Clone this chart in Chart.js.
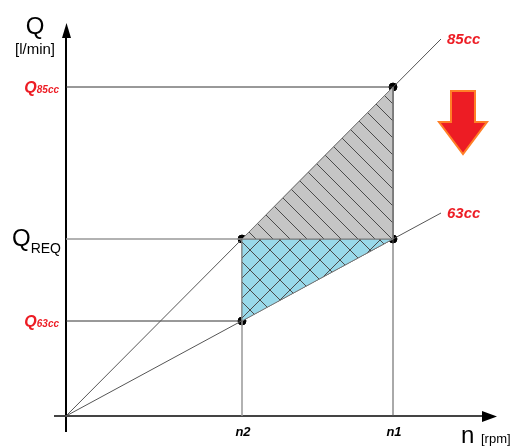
<!DOCTYPE html>
<html>
<head>
<meta charset="utf-8">
<script src="https://cdn.jsdelivr.net/npm/chart.js@4/dist/chart.umd.min.js"></script>
<style>
  body { margin: 0; background: #fff; }
  #wrap { width: 518px; height: 447px; position: relative; }
</style>
</head>
<body>
<div id="wrap"><canvas id="pump-chart"></canvas></div>
<script>
// speed (n) and flow (Q) levels
const nTicks = ['n2', 'n1'];
const nValues = [176, 327];
const qTicks = [['Q', '63cc'], ['Q', 'REQ'], ['Q', '85cc']];
const qValues = [95, 177, 329];

// displacement lines: [n, Q] at their far end
const lineNames = ['85cc', '63cc'];
const lineEnds = [[375, 377], [375, 203]];

const N2 = nValues[0], N1 = nValues[1];
const Q63 = qValues[0], QREQ = qValues[1], Q85 = qValues[2];

function hatch(bg, size, cross) {
    const c = document.createElement('canvas');
    c.width = size; c.height = size;
    const g = c.getContext('2d');
    g.fillStyle = bg;
    g.fillRect(0, 0, size, size);
    g.strokeStyle = '#4a4a4a';
    g.lineWidth = 1;
    g.beginPath();
    g.moveTo(-1, -1); g.lineTo(size + 1, size + 1);
    if (cross) { g.moveTo(size + 1, -1); g.lineTo(-1, size + 1); }
    g.stroke();
    return g.createPattern(c, 'repeat');
}

function seg(data, color, width) {
    return {
        data: data,
        borderColor: color,
        borderWidth: width || 1,
        pointRadius: 0,
        fill: false,
        clip: false
    };
}

const redText = 'rgb(237, 28, 36)';
const font = 'Liberation Sans, Arial, sans-serif';

const labelsPlugin = {
    id: 'labels',
    afterDraw(chart) {
        const ctx = chart.ctx;
        const xs = chart.scales.x, ys = chart.scales.y;
        const px = v => xs.getPixelForValue(v);
        const py = v => ys.getPixelForValue(v);
        ctx.save();

        // axis arrow heads
        ctx.fillStyle = '#000';
        ctx.beginPath();
        ctx.moveTo(px(0) + 0.5, py(393));
        ctx.lineTo(px(0) - 4, py(378));
        ctx.lineTo(px(0) + 5, py(378));
        ctx.closePath();
        ctx.fill();
        ctx.beginPath();
        ctx.moveTo(px(431), py(0) + 0.5);
        ctx.lineTo(px(416), py(0) - 5);
        ctx.lineTo(px(416), py(0) + 6);
        ctx.closePath();
        ctx.fill();

        // axis titles
        ctx.fillStyle = '#000';
        ctx.textBaseline = 'alphabetic';
        ctx.textAlign = 'center';
        ctx.font = '24px ' + font;
        ctx.fillText('Q', px(0) - 31, 34);
        ctx.font = '15px ' + font;
        ctx.fillText('[l/min]', px(0) - 31, 54);
        ctx.textAlign = 'left';
        ctx.font = '24px ' + font;
        ctx.fillText('n', 461, 443);
        ctx.font = '13px ' + font;
        ctx.fillText('[rpm]', 481, 443);

        // Q tick labels (right aligned to the axis)
        qTicks.forEach((t, i) => {
            const y = py(qValues[i]);
            const req = t[1] === 'REQ';
            const bigF = req ? '24px ' + font : 'bold italic 16px ' + font;
            const subF = req ? '14px ' + font : 'bold italic 10px ' + font;
            ctx.font = subF;
            const ws = ctx.measureText(t[1]).width;
            ctx.font = bigF;
            const wb = ctx.measureText(t[0]).width;
            const right = req ? px(0) - 5 : px(0) - 7;
            ctx.fillStyle = req ? '#000' : redText;
            ctx.fillText(t[0], right - ws - wb, y + (req ? 7 : 6));
            ctx.font = subF;
            ctx.fillText(t[1], right - ws, y + (req ? 14 : 6));
        });

        // n tick labels
        ctx.fillStyle = '#000';
        ctx.textAlign = 'center';
        ctx.font = 'bold italic 13px ' + font;
        nTicks.forEach((t, i) => {
            ctx.fillText(t, px(nValues[i]) + 1, py(0) + 20);
        });

        // line names
        ctx.fillStyle = redText;
        ctx.textAlign = 'left';
        ctx.font = 'bold italic 15px ' + font;
        lineNames.forEach((t, i) => {
            ctx.fillText(t, px(lineEnds[i][0]) + 6, py(lineEnds[i][1]) + 5);
        });

        // red "decrease" arrow
        const cx = px(397);
        const top = py(325);
        ctx.beginPath();
        ctx.moveTo(cx - 12, top);
        ctx.lineTo(cx + 12, top);
        ctx.lineTo(cx + 12, top + 31);
        ctx.lineTo(cx + 24, top + 31);
        ctx.lineTo(cx, top + 63);
        ctx.lineTo(cx - 24, top + 31);
        ctx.lineTo(cx - 12, top + 31);
        ctx.closePath();
        ctx.fillStyle = 'rgb(237, 28, 36)';
        ctx.fill();
        ctx.lineWidth = 2;
        ctx.lineJoin = 'miter';
        ctx.strokeStyle = 'rgb(255, 127, 39)';
        ctx.stroke();

        ctx.restore();
    }
};

const config = {
    type: 'line',
    data: {
        datasets: [
            // working regions
            {
                data: [{x: N2, y: QREQ}, {x: N1, y: Q85}, {x: N1, y: QREQ}, {x: N2, y: QREQ}],
                backgroundColor: hatch('rgb(197, 197, 197)', 17, false),
                borderColor: '#777',
                borderWidth: 1,
                pointRadius: 0,
                fill: 'shape',
                clip: false
            },
            {
                data: [{x: N2, y: QREQ}, {x: N1, y: QREQ}, {x: N2, y: Q63}, {x: N2, y: QREQ}],
                backgroundColor: hatch('rgb(153, 217, 234)', 20, true),
                borderColor: '#777',
                borderWidth: 1,
                pointRadius: 0,
                fill: 'shape',
                clip: false
            },
            // displacement lines
            seg([{x: 0, y: 0}, {x: lineEnds[0][0], y: lineEnds[0][1]}], '#555'),
            seg([{x: 0, y: 0}, {x: lineEnds[1][0], y: lineEnds[1][1]}], '#555'),
            // reference lines
            seg([{x: 0, y: Q85}, {x: N1, y: Q85}], '#333'),
            seg([{x: 0, y: QREQ}, {x: N1, y: QREQ}], '#999', 1.5),
            seg([{x: 0, y: Q63}, {x: N2, y: Q63}], '#333'),
            seg([{x: N2, y: 0}, {x: N2, y: QREQ}], '#999', 1.5),
            seg([{x: N1, y: 0}, {x: N1, y: Q85}], '#555'),
            // axes
            seg([{x: -12, y: 0}, {x: 418, y: 0}], '#444', 2),
            seg([{x: 0, y: -16}, {x: 0, y: 380}], '#000', 2),
            // operating points
            {
                data: [{x: N2, y: QREQ}, {x: N1, y: Q85}, {x: N1, y: QREQ}, {x: N2, y: Q63}],
                showLine: false,
                pointRadius: 4,
                pointBackgroundColor: '#000',
                pointBorderColor: '#000',
                clip: false
            }
        ]
    },
    options: {
        responsive: true,
        maintainAspectRatio: false,
        animation: false,
        layout: {
            autoPadding: false,
            padding: { left: 66, right: 0, top: 0, bottom: 31 }
        },
        scales: {
            x: { type: 'linear', min: 0, max: 452, display: false },
            y: { type: 'linear', min: 0, max: 416, display: false }
        },
        plugins: {
            legend: { display: false },
            tooltip: { enabled: false }
        }
    },
    plugins: [labelsPlugin]
};

const pumpChart = new Chart(document.getElementById('pump-chart'), config);
</script>
</body>
</html>
